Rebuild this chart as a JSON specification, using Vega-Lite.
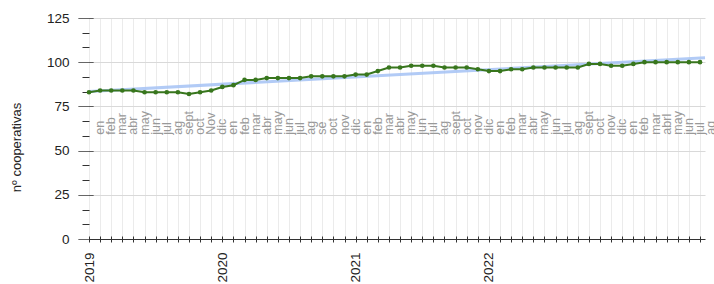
{
  "$schema": "https://vega.github.io/schema/vega-lite/v6.json",
  "width": 616,
  "height": 221,
  "autosize": {"type": "none"},
  "padding": {"left": 89, "top": 18, "right": 9, "bottom": 45},
  "config": {"view": {"stroke": null}, "font": "Liberation Sans"},
  "datasets": {
    "serie": [
      {"i": 0, "valor": 83}, {"i": 1, "valor": 84}, {"i": 2, "valor": 84}, {"i": 3, "valor": 84},
      {"i": 4, "valor": 84}, {"i": 5, "valor": 83}, {"i": 6, "valor": 83}, {"i": 7, "valor": 83},
      {"i": 8, "valor": 83}, {"i": 9, "valor": 82}, {"i": 10, "valor": 83}, {"i": 11, "valor": 84},
      {"i": 12, "valor": 86}, {"i": 13, "valor": 87}, {"i": 14, "valor": 90}, {"i": 15, "valor": 90},
      {"i": 16, "valor": 91}, {"i": 17, "valor": 91}, {"i": 18, "valor": 91}, {"i": 19, "valor": 91},
      {"i": 20, "valor": 92}, {"i": 21, "valor": 92}, {"i": 22, "valor": 92}, {"i": 23, "valor": 92},
      {"i": 24, "valor": 93}, {"i": 25, "valor": 93}, {"i": 26, "valor": 95}, {"i": 27, "valor": 97},
      {"i": 28, "valor": 97}, {"i": 29, "valor": 98}, {"i": 30, "valor": 98}, {"i": 31, "valor": 98},
      {"i": 32, "valor": 97}, {"i": 33, "valor": 97}, {"i": 34, "valor": 97}, {"i": 35, "valor": 96},
      {"i": 36, "valor": 95}, {"i": 37, "valor": 95}, {"i": 38, "valor": 96}, {"i": 39, "valor": 96},
      {"i": 40, "valor": 97}, {"i": 41, "valor": 97}, {"i": 42, "valor": 97}, {"i": 43, "valor": 97},
      {"i": 44, "valor": 97}, {"i": 45, "valor": 99}, {"i": 46, "valor": 99}, {"i": 47, "valor": 98},
      {"i": 48, "valor": 98}, {"i": 49, "valor": 99}, {"i": 50, "valor": 100}, {"i": 51, "valor": 100},
      {"i": 52, "valor": 100}, {"i": 53, "valor": 100}, {"i": 54, "valor": 100}, {"i": 55, "valor": 100}
    ],
    "meses": [
      {"i": 1, "mes": "en"}, {"i": 2, "mes": "feb"}, {"i": 3, "mes": "mar"}, {"i": 4, "mes": "abr"},
      {"i": 5, "mes": "may"}, {"i": 6, "mes": "jun"}, {"i": 7, "mes": "jul"}, {"i": 8, "mes": "ag"},
      {"i": 9, "mes": "sept"}, {"i": 10, "mes": "oct"}, {"i": 11, "mes": "Nov"}, {"i": 12, "mes": "dic"},
      {"i": 13, "mes": "en"}, {"i": 14, "mes": "feb"}, {"i": 15, "mes": "mar"}, {"i": 16, "mes": "abr"},
      {"i": 17, "mes": "may"}, {"i": 18, "mes": "jun"}, {"i": 19, "mes": "jul"}, {"i": 20, "mes": "ag"},
      {"i": 21, "mes": "se"}, {"i": 22, "mes": "oct"}, {"i": 23, "mes": "nov"}, {"i": 24, "mes": "dic"},
      {"i": 25, "mes": "en"}, {"i": 26, "mes": "feb"}, {"i": 27, "mes": "mar"}, {"i": 28, "mes": "abr"},
      {"i": 29, "mes": "may"}, {"i": 30, "mes": "jun"}, {"i": 31, "mes": "jul"}, {"i": 32, "mes": "ag"},
      {"i": 33, "mes": "sept"}, {"i": 34, "mes": "oct"}, {"i": 35, "mes": "nov"}, {"i": 36, "mes": "dic"},
      {"i": 37, "mes": "en"}, {"i": 38, "mes": "feb"}, {"i": 39, "mes": "mar"}, {"i": 40, "mes": "abr"},
      {"i": 41, "mes": "may"}, {"i": 42, "mes": "jun"}, {"i": 43, "mes": "jul"}, {"i": 44, "mes": "ag"},
      {"i": 45, "mes": "sept"}, {"i": 46, "mes": "oct"}, {"i": 47, "mes": "nov"}, {"i": 48, "mes": "dic"},
      {"i": 49, "mes": "en"}, {"i": 50, "mes": "feb"}, {"i": 51, "mes": "mar"}, {"i": 52, "mes": "abrl"},
      {"i": 53, "mes": "may"}, {"i": 54, "mes": "jun"}, {"i": 55, "mes": "jul"}, {"i": 56, "mes": "ag"}
    ]
  },
  "layer": [
    {
      "data": {"name": "serie"},
      "transform": [{"regression": "valor", "on": "i", "extent": [0, 55.45]}],
      "mark": {"type": "line", "color": "#a4c2f4", "strokeWidth": 3, "opacity": 0.85},
      "encoding": {
        "x": {
          "field": "i", "type": "quantitative",
          "scale": {"domain": [0, 55.45], "nice": false, "zero": false},
          "axis": {
            "values": [0,1,2,3,4,5,6,7,8,9,10,11,12,13,14,15,16,17,18,19,20,21,22,23,24,25,26,27,28,29,30,31,32,33,34,35,36,37,38,39,40,41,42,43,44,45,46,47,48,49,50,51,52,53,54,55],
            "tickCount": 200,
            "offset": -3, "tickSize": 6, "tickColor": "#333", "domain": false,
            "grid": true, "gridColor": "#ebebeb",
            "labelAngle": 270, "labelAlign": "right", "labelBaseline": "middle",
            "labelPadding": 10, "labelFontSize": 13.5, "labelColor": "#222",
            "labelOverlap": false, "labelFlush": false, "labelBound": false,
            "labelExpr": "datum.value == 0 ? '2019' : datum.value == 12 ? '2020' : datum.value == 24 ? '2021' : datum.value == 36 ? '2022' : ''",
            "title": null
          }
        },
        "y": {
          "field": "valor", "type": "quantitative",
          "scale": {"domain": [0, 125], "nice": false},
          "axis": {
            "values": [0, 8.333333, 16.666667, 25, 33.333333, 41.666667, 50, 58.333333, 66.666667, 75, 83.333333, 91.666667, 100, 108.333333, 116.666667, 125],
            "tickCount": 200,
            "offset": -4, "domain": false, "tickSize": 15, "tickColor": "#333",
            "tickDash": {"condition": {"test": "datum.value % 25 != 0", "value": [0, 4, 7, 20]}, "value": [1, 0]},
            "grid": true,
            "gridColor": {"condition": {"test": "datum.value == 0", "value": "#333333"}, "value": "#d9d9d9"},
            "gridOpacity": {"condition": {"test": "datum.value % 25 != 0", "value": 0}, "value": 1},
            "labelExpr": "datum.value % 25 == 0 ? format(datum.value, 'd') : ''",
            "labelPadding": 9, "labelFontSize": 13.5, "labelColor": "#222",
            "labelOverlap": false, "labelFlush": false,
            "title": "nº cooperativas", "titleFontSize": 13, "titleFontWeight": "normal",
            "titleColor": "#222", "titleAngle": 270, "titleX": -77, "titleY": 129,
            "titleBaseline": "middle", "titleAlign": "center"
          }
        }
      }
    },
    {
      "data": {"name": "serie"},
      "mark": {"type": "line", "color": "#38761d", "strokeWidth": 2,
               "point": {"filled": true, "size": 22, "color": "#38761d"}},
      "encoding": {
        "x": {"field": "i", "type": "quantitative"},
        "y": {"field": "valor", "type": "quantitative"}
      }
    },
    {
      "data": {"name": "meses"},
      "mark": {"type": "text", "angle": 270, "align": "left", "baseline": "middle",
               "fontSize": 12.5, "color": "#999999", "clip": false},
      "encoding": {
        "x": {"field": "i", "type": "quantitative"},
        "y": {"datum": 59},
        "text": {"field": "mes"}
      }
    }
  ]
}
